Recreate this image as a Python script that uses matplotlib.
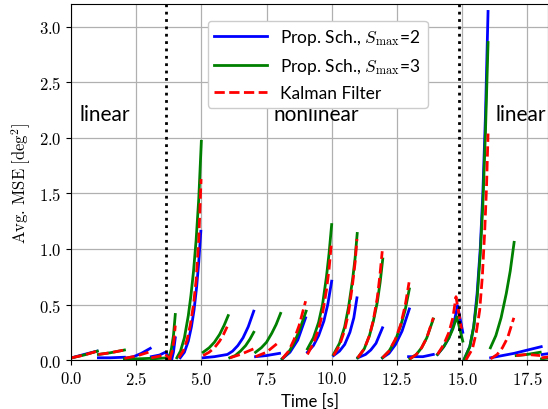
import numpy as np
import matplotlib
matplotlib.use("Agg")
import matplotlib.pyplot as plt
from matplotlib.ticker import FuncFormatter

plt.rcParams['mathtext.fontset'] = 'cm'
plt.rcParams['font.family'] = ['Lato', 'DejaVu Sans']

# segments: (time [s], avg. MSE [deg^2])
blue_t = [[0.03, 0.5, 1.0], [1.05, 1.5, 2.05], [2.05, 2.4, 2.7, 3.04],
          [3.08, 3.4, 3.62, 3.85], [3.86, 3.93, 4.0],
          [4.19, 4.35, 4.5, 4.62, 4.72, 4.82, 4.9, 4.98],
          [5.07, 5.5, 6.0, 6.2, 6.4, 6.6, 6.8, 7.01], [7.08, 7.5, 8.0],
          [8.1, 8.4, 8.7, 9.0], [9.07, 9.3, 9.5, 9.7, 9.85, 10.0],
          [10.07, 10.3, 10.5, 10.7, 10.85, 10.97],
          [11.0, 11.3, 11.5, 11.7, 11.95],
          [11.95, 12.2, 12.45, 12.7, 12.98], [12.95, 13.5, 13.9],
          [14.06, 14.3, 14.5, 14.68, 14.83, 15.03],
          [15.09, 15.3, 15.45, 15.58, 15.7, 15.8, 15.9, 16.0],
          [16.1, 17.0, 18.04], [18.08, 18.4]]
blue_v = [[0.02, 0.05, 0.08], [0.02, 0.02, 0.025], [0.015, 0.03, 0.06, 0.105],
          [0.03, 0.045, 0.07, 0.0], [0.0, 0.07, 0.2],
          [0.02, 0.07, 0.17, 0.3, 0.45, 0.66, 0.88, 1.16],
          [0.02, 0.03, 0.05, 0.08, 0.13, 0.2, 0.3, 0.44], [0.03, 0.04, 0.06],
          [0.01, 0.07, 0.18, 0.38], [0.07, 0.13, 0.22, 0.35, 0.5, 0.71],
          [0.04, 0.08, 0.14, 0.25, 0.38, 0.56],
          [0.02, 0.05, 0.09, 0.15, 0.29],
          [0.02, 0.06, 0.14, 0.26, 0.46], [0.03, 0.03, 0.05],
          [0.05, 0.12, 0.2, 0.32, 0.49, 0.25],
          [0.01, 0.12, 0.3, 0.6, 1.0, 1.5, 2.2, 3.14],
          [0.02, 0.06, 0.12], [0.05, 0.06]]

green_t = [[0.03, 0.5, 1.01], [1.05, 1.5, 2.05], [2.05, 2.5, 3.04],
           [3.08, 3.4, 3.7], [3.74, 3.85, 3.93, 4.0],
           [4.06, 4.2, 4.35, 4.5, 4.6, 4.7, 4.8, 4.9, 5.0],
           [5.07, 5.3, 5.5, 5.7, 5.87, 6.03], [6.09, 6.3, 6.5, 6.7, 6.87, 7.01],
           [7.08, 7.3, 7.5, 7.7, 7.87, 8.04], [8.1, 8.35, 8.55, 8.75, 9.02],
           [9.07, 9.3, 9.5, 9.65, 9.8, 9.9, 10.0],
           [10.07, 10.3, 10.5, 10.65, 10.8, 10.9, 10.98],
           [11.0, 11.25, 11.45, 11.6, 11.75, 11.86, 11.96],
           [11.95, 12.2, 12.45, 12.65, 12.82, 12.98],
           [13.0, 13.25, 13.45, 13.65, 13.9], [14.06, 14.3, 14.5, 14.65, 14.8, 15.03],
           [15.09, 15.3, 15.45, 15.58, 15.7, 15.8, 15.9, 16.0],
           [16.09, 16.3, 16.5, 16.7, 16.85, 17.0], [17.08, 17.5, 18.0], [18.05, 18.4]]
green_v = [[0.02, 0.045, 0.08], [0.05, 0.065, 0.09], [0.01, 0.01, 0.015],
           [0.01, 0.015, 0.02], [0.0, 0.1, 0.22, 0.41],
           [0.02, 0.08, 0.2, 0.4, 0.58, 0.8, 1.08, 1.45, 1.97],
           [0.07, 0.11, 0.16, 0.23, 0.31, 0.40], [0.02, 0.04, 0.08, 0.13, 0.19, 0.25],
           [0.07, 0.11, 0.16, 0.24, 0.32, 0.42], [0.01, 0.07, 0.15, 0.26, 0.44],
           [0.1, 0.2, 0.34, 0.5, 0.75, 0.96, 1.22],
           [0.05, 0.15, 0.3, 0.48, 0.72, 0.92, 1.14],
           [0.02, 0.1, 0.22, 0.35, 0.52, 0.7, 0.91],
           [0.02, 0.08, 0.18, 0.31, 0.45, 0.64],
           [0.01, 0.05, 0.11, 0.2, 0.37], [0.05, 0.12, 0.2, 0.28, 0.39, 0.17],
           [0.01, 0.12, 0.3, 0.55, 0.95, 1.4, 2.05, 2.86],
           [0.11, 0.22, 0.38, 0.6, 0.8, 1.06], [0.04, 0.05, 0.07], [0.01, 0.02]]

red_t = [[0.03, 0.5, 1.01], [1.05, 1.5, 2.05], [2.05, 2.5, 2.97],
         [3.08, 3.4, 3.62, 3.83], [3.78, 3.88, 3.95, 4.0],
         [4.13, 4.3, 4.45, 4.58, 4.7, 4.8, 4.9, 4.99],
         [5.07, 5.3, 5.5, 5.7, 5.85, 5.99], [6.1, 6.5, 7.0], [7.08, 7.5, 7.97],
         [8.1, 8.35, 8.55, 8.75, 9.0], [9.07, 9.3, 9.5, 9.65, 9.8, 9.9, 9.98],
         [10.07, 10.3, 10.5, 10.65, 10.8, 10.9, 10.97],
         [11.0, 11.25, 11.45, 11.6, 11.75, 11.85, 11.94],
         [11.95, 12.2, 12.45, 12.65, 12.82, 12.97], [13.0, 13.25, 13.45, 13.65, 13.9],
         [14.06, 14.3, 14.5, 14.65, 14.77, 14.98],
         [15.15, 15.4, 15.55, 15.68, 15.78, 15.87, 15.94, 16.0],
         [16.1, 16.35, 16.55, 16.75, 16.99], [17.08, 17.5, 18.0], [18.05, 18.4]]
red_v = [[0.02, 0.045, 0.08], [0.05, 0.065, 0.09], [0.015, 0.035, 0.07],
         [0.02, 0.035, 0.05, 0.0], [0.0, 0.08, 0.18, 0.31],
         [0.02, 0.08, 0.18, 0.32, 0.5, 0.72, 1.08, 1.63],
         [0.04, 0.07, 0.11, 0.17, 0.23, 0.30], [0.02, 0.05, 0.10], [0.03, 0.07, 0.16],
         [0.01, 0.08, 0.18, 0.31, 0.53], [0.05, 0.15, 0.28, 0.42, 0.63, 0.82, 1.03],
         [0.04, 0.13, 0.27, 0.43, 0.68, 0.88, 1.09],
         [0.02, 0.1, 0.22, 0.36, 0.56, 0.76, 0.98],
         [0.02, 0.08, 0.19, 0.32, 0.49, 0.70], [0.01, 0.05, 0.11, 0.2, 0.38],
         [0.05, 0.14, 0.25, 0.38, 0.57, 0.28],
         [0.0, 0.1, 0.25, 0.45, 0.75, 1.15, 1.55, 2.04],
         [0.01, 0.05, 0.11, 0.2, 0.38], [0.04, 0.05, 0.04], [0.02, 0.03]]

switch_times = [3.65, 14.88]
region_labels = ['linear', 'nonlinear', 'linear']
region_x = [1.3, 9.4, 17.25]


def plot_segments(ax, ts, vs, **kw):
    label = kw.pop('label')
    for i, (t, v) in enumerate(zip(ts, vs)):
        ax.plot(t, v, label=label if i == 0 else None, **kw)


fig = plt.figure(figsize=(5.48, 4.10), dpi=100)
ax = fig.add_axes([0.1296, 0.1195, 0.8704, 0.8683])

plot_segments(ax, blue_t, blue_v, color='b', lw=2,
              label=r'Prop. Sch., $S_{\max}$=2')
plot_segments(ax, green_t, green_v, color='g', lw=2,
              label=r'Prop. Sch., $S_{\max}$=3')
plot_segments(ax, red_t, red_v, color='r', lw=2, ls='--',
              label='Kalman Filter')

for xs in switch_times:
    ax.axvline(xs, color='k', ls=':', lw=2)

for x, s in zip(region_x, region_labels):
    ax.text(x, 2.22, s, ha='center', va='center', fontsize=15)

ax.set_xlim(0, 18.3)
ax.set_ylim(0, 3.207)
ax.set_xticks(np.arange(0, 18, 2.5))
ax.set_yticks(np.arange(0, 3.01, 0.5))
fmt = FuncFormatter(lambda v, p: r'$%.1f$' % v)
ax.xaxis.set_major_formatter(fmt)
ax.yaxis.set_major_formatter(fmt)
ax.tick_params(labelsize=12)
ax.grid(True, color='#b0b0b0', lw=0.9)
ax.set_axisbelow(True)
ax.set_xlabel('Time [s]', fontsize=12)
ax.set_ylabel(r'$\mathrm{Avg.\,MSE}\;[\mathrm{deg}^2]$', fontsize=12)
ax.legend(loc='upper left', bbox_to_anchor=(0.268, 0.978), fontsize=12.5,
          handlelength=3.0, framealpha=1.0)

fig.savefig('out.png', dpi=100)
